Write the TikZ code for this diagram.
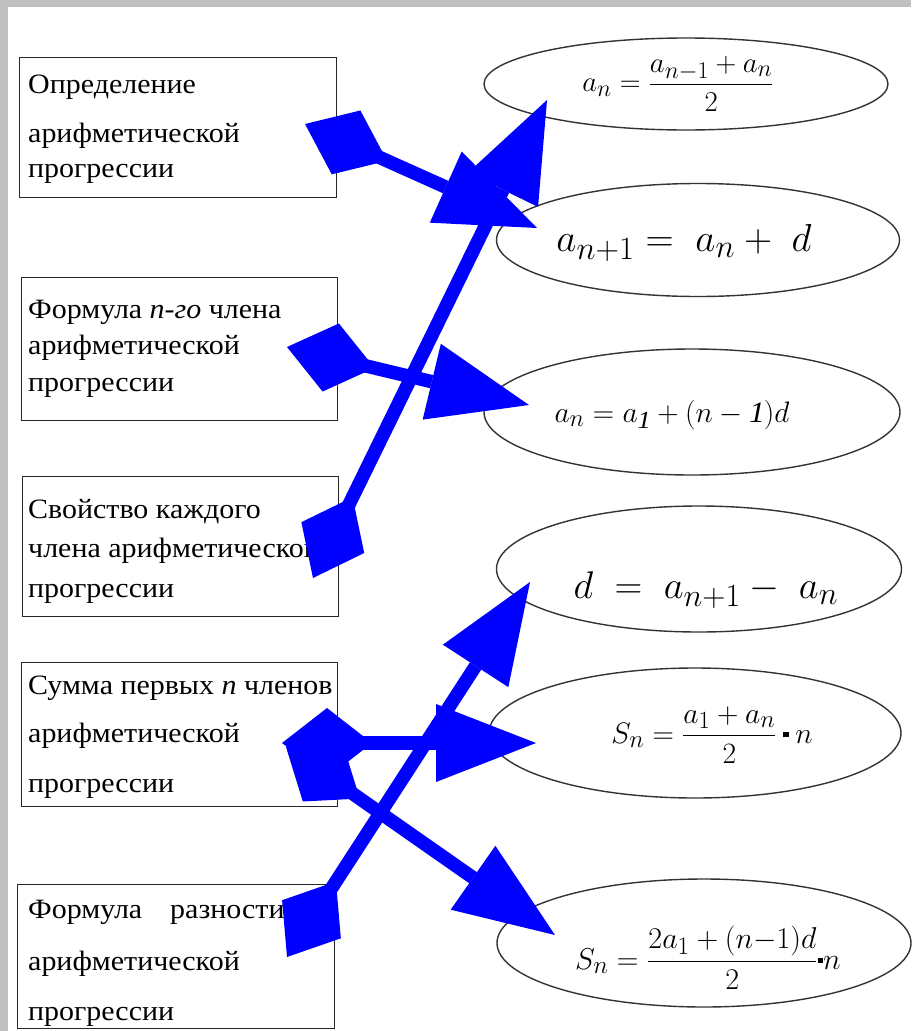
\documentclass[tikz,border=0pt]{standalone}
\usepackage{amsmath}
\usepackage{graphicx}
\usepackage{fontspec}
\setmainfont[FakeStretch=1.07]{Liberation Serif}
\usetikzlibrary{arrows.meta,shapes.geometric}
\newcommand{\bigmath}[2]{\scalebox{#1}{\Huge$#2$}}
\begin{document}
\begin{tikzpicture}[x=1pt,y=-1pt,
  box/.style={draw=black!85,line width=1.4pt,inner sep=0pt,anchor=north west},
  oval/.style={ellipse,draw=black!80,line width=1.4pt,inner sep=0pt},
  lbl/.style={anchor=base west,inner sep=0pt,font=\fontsize{28}{32}\selectfont},
  frm/.style={inner sep=0pt,text=black},
  conn/.style={draw=blue,line width=13.5pt,
    {Diamond[length=90pt,width=70pt,line width=0pt]}-{Triangle[length=100pt,width=78pt,line width=0pt]}},
]
\useasboundingbox (0,0) rectangle (911,1031);
\fill[white] (0,0) rectangle (911,1031);
\fill[gray!50] (0,0) rectangle (911,7);
\fill[gray!50] (0,0) rectangle (8,1031);

% boxes
\node[box,minimum width=317pt,minimum height=140pt] (b1) at (19,57) {};
\node[box,minimum width=316pt,minimum height=143pt] (b2) at (21,277) {};
\node[box,minimum width=316pt,minimum height=140pt] (b3) at (22,476) {};
\node[box,minimum width=316pt,minimum height=144pt] (b4) at (21,662) {};
\node[box,minimum width=317pt,minimum height=144pt] (b5) at (17,884) {};

% box texts
\node[lbl] (t11) at (28,93) {Определение};
\node[lbl] (t12) at (28,142) {арифметической};
\node[lbl] (t13) at (28,177) {прогрессии};
\node[lbl] (t21) at (28,318) {Формула \textit{n-го} члена};
\node[lbl] (t22) at (28,354) {арифметической};
\node[lbl] (t23) at (28,391) {прогрессии};
\node[lbl] (t31) at (28,518) {Свойство каждого};
\node[lbl] (t32) at (28,557) {члена арифметической};
\node[lbl] (t33) at (28,597) {прогрессии};
\node[lbl] (t41) at (28,694) {Сумма первых \textit{n} членов};
\node[lbl] (t42) at (28,742) {арифметической};
\node[lbl] (t43) at (28,792) {прогрессии};
\node[lbl] (t51) at (28,918) {Формула\hspace{28pt}разности};
\node[lbl] (t52) at (28,970) {арифметической};
\node[lbl] (t53) at (28,1020) {прогрессии};

% ellipses
\node[oval,minimum width=404pt,minimum height=92pt] (e1) at (686,84) {};
\node[oval,minimum width=403pt,minimum height=113pt] (e2) at (698,240) {};
\node[oval,minimum width=416pt,minimum height=126pt] (e3) at (692,412) {};
\node[oval,minimum width=405pt,minimum height=126pt] (e4) at (699,569) {};
\node[oval,minimum width=412pt,minimum height=130pt] (e5) at (695,733) {};
\node[oval,minimum width=414pt,minimum height=128pt] (e6) at (704,943) {};

% formulas
\node[frm] (f1) at (678,84)
  {\bigmath{1.16}{a_n = \dfrac{a_{n-1}+a_n}{2}}};
\node[frm] (f2) at (684,243)
  {\bigmath{1.57}{a_{n+1} =\; a_n +\; d}};
\node[frm] (f3) at (672,415)
  {\bigmath{1.19}{a_n = a_{\mathit{1}} + (n - \mathit{1})d}};
\node[frm] (f4) at (706,590)
  {\bigmath{1.55}{d \;=\; a_{n+1} -\; a_n}};
\node[frm] (f5) at (712,735)
  {\bigmath{1.19}{S_n = \dfrac{a_1+a_n}{2}\mathbin{\rule[0.2em]{0.18em}{0.18em}}n}};
\node[frm] (f6) at (708,958)
  {\bigmath{1.21}{S_n = \dfrac{2a_1+(n{-}1)d}{2}{\rule[0.2em]{0.18em}{0.18em}}n}};

% connector ends
\coordinate (a0) at (305,124);  \coordinate (a1) at (537,228);
\coordinate (c0) at (287,347);  \coordinate (c1) at (529,405);
\coordinate (bb0) at (313,578); \coordinate (bb1) at (547,100);
\coordinate (d0) at (282,743);  \coordinate (d1) at (536,743);
\coordinate (g0) at (286,747);  \coordinate (g1) at (555,935);
\coordinate (h0) at (287,957);  \coordinate (h1) at (530,582);

\draw[conn] (a0) -- (a1);
\draw[conn] (c0) -- (c1);
\draw[conn] (bb0) -- (bb1);
\draw[conn] (d0) -- (d1);
\draw[conn] (g0) -- (g1);
\draw[conn] (h0) -- (h1);
\end{tikzpicture}
\end{document}
